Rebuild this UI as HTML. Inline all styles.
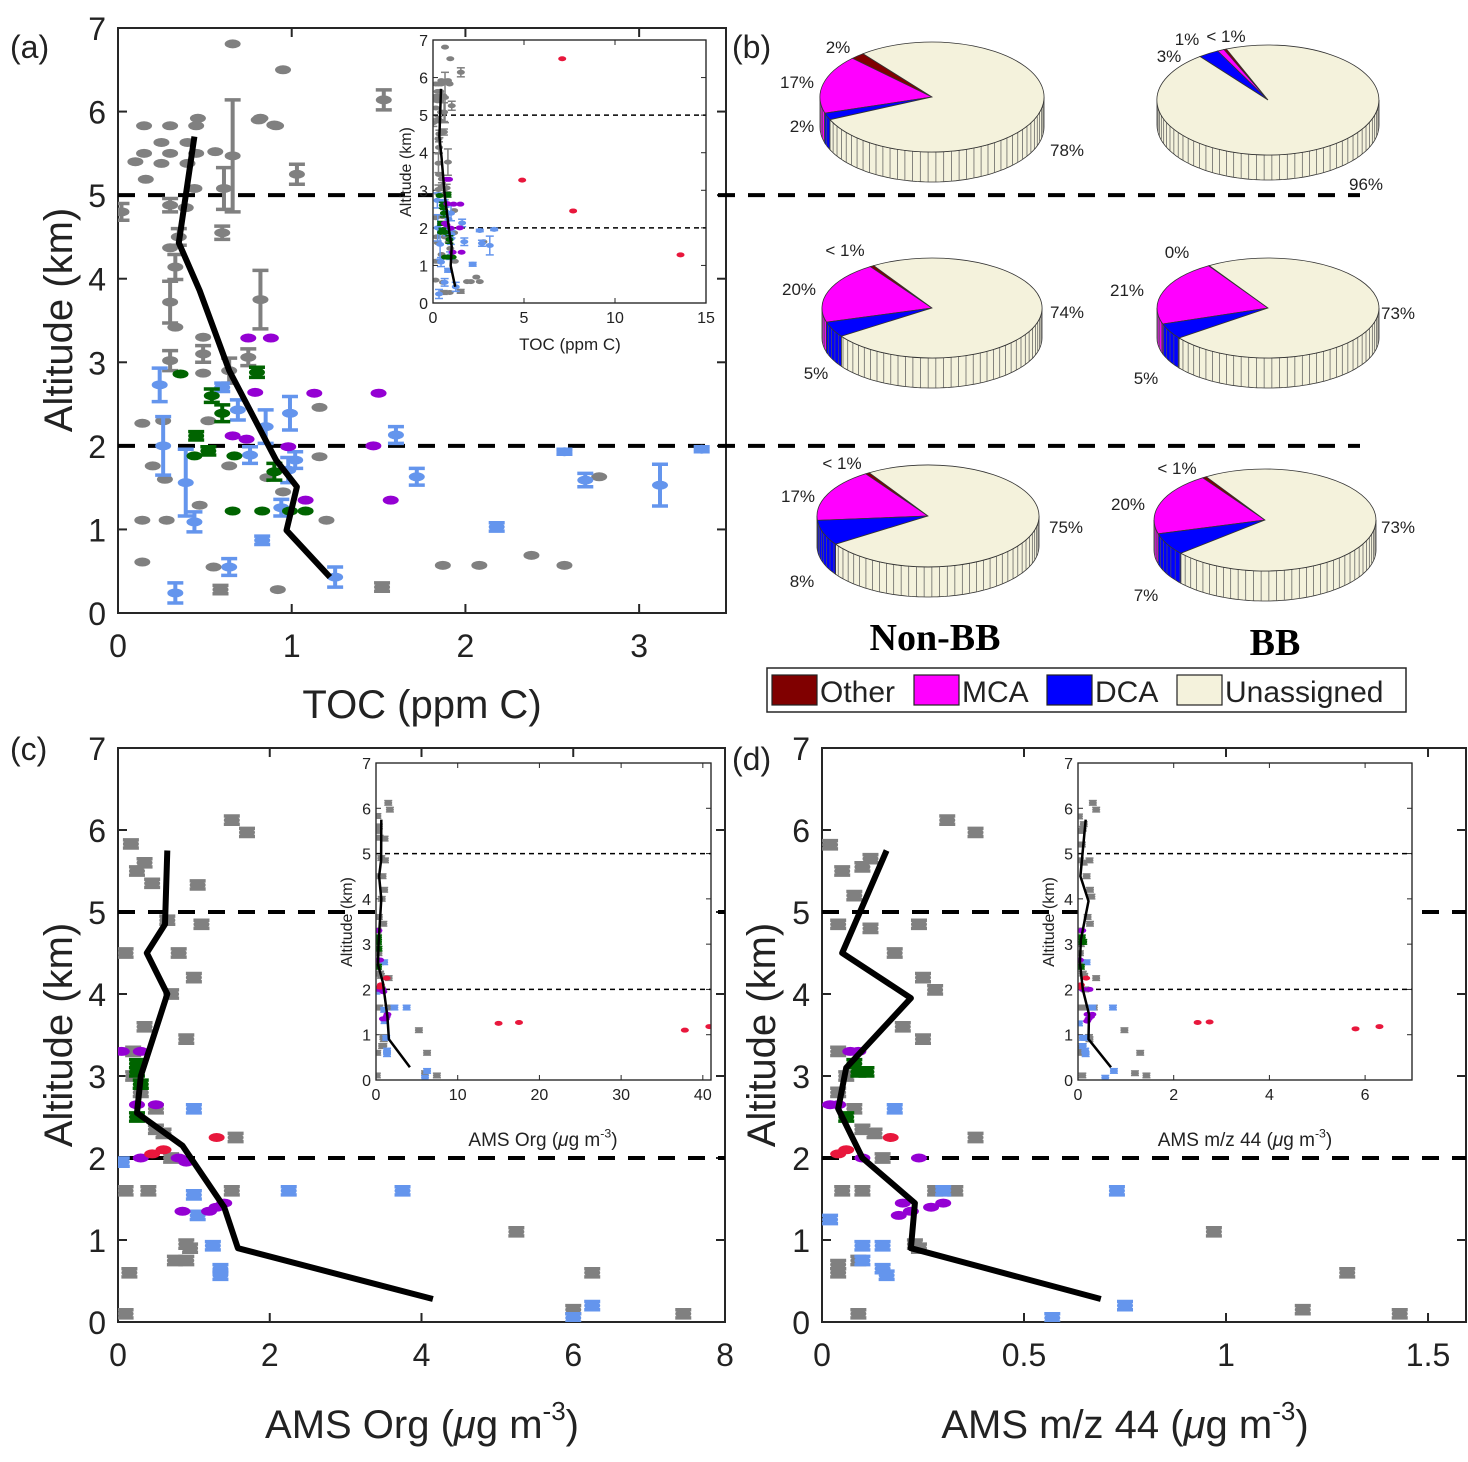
<!DOCTYPE html>
<html><head><meta charset="utf-8">
<style>
html,body{margin:0;padding:0;background:#fff;}
svg{display:block;font-family:"Liberation Sans",Arial,sans-serif;}
</style></head>
<body>
<svg id="fig" width="1468" height="1462" viewBox="0 0 1468 1462" xmlns="http://www.w3.org/2000/svg">
<rect width="1468" height="1462" fill="#fff"/>
</svg>
<script>
// ---------- Panel (a) data : TOC (ppm C) vs altitude (km) ----------
const aGrayX=[0.66,0.95,1.53,0.81,0.91,1.03,0.02,0.6,0.82,0.3,0.66,0.61,0.15,0.3,0.45,0.46,0.15,0.3,0.45,0.1,0.25,0.4,0.25,0.4,0.56,0.82,0.9,0.16,0.44,0.3,0.39,0.35,0.3,0.33,0.33,0.49,0.49,0.3,0.75,0.64,0.49,1.16,0.14,0.26,0.52,1.16,0.2,0.27,0.64,0.86,0.95,0.47,0.14,0.28,1.2,0.14,0.55,0.59,0.92,1.52,1.87,2.08,2.38,2.57,2.77];
const aGrayY=[6.81,6.5,6.14,5.9,5.83,5.25,4.8,4.55,3.75,3.72,5.47,5.08,5.83,5.83,5.83,5.92,5.5,5.5,5.5,5.4,5.38,5.38,5.63,5.63,5.52,5.92,5.84,5.19,5.08,4.88,4.85,4.5,4.37,4.14,3.42,3.3,3.1,3.02,3.06,2.9,2.87,2.46,2.27,2.3,2.3,1.87,1.76,1.6,1.76,1.62,1.45,1.29,1.11,1.11,1.11,0.61,0.55,0.28,0.28,0.31,0.57,0.57,0.69,0.57,1.63];
const aGrayE=[0,0,0.12,0,0,0.12,0.1,0.08,0.35,0.25,0.67,0.25,0,0,0,0,0,0,0,0,0,0,0,0,0,0,0,0,0,0.08,0,0.1,0,0.15,0,0,0.1,0.12,0.1,0.15,0,0,0,0,0,0,0,0,0,0,0,0,0,0,0,0,0,0.05,0,0.05,0,0,0,0,0];
const aBlueX=[0.24,0.6,0.69,0.99,0.85,0.26,0.76,1.02,0.98,1.6,1.72,0.39,0.44,0.94,0.83,0.64,1.25,0.33,2.18,2.69,3.12,3.36,2.57];
const aBlueY=[2.73,2.7,2.43,2.39,2.23,2.0,1.89,1.83,1.71,2.13,1.63,1.56,1.09,1.26,0.87,0.55,0.43,0.24,1.03,1.59,1.53,1.96,1.93];
const aBlueE=[0.2,0.05,0.12,0.2,0.2,0.35,0.1,0.1,0.15,0.1,0.1,0.4,0.12,0.1,0.05,0.1,0.12,0.12,0.05,0.08,0.25,0.03,0.03];
const aGreenX=[0.36,0.8,0.54,0.6,0.45,0.52,0.44,0.67,0.9,0.66,0.83,1.08,0.99];
const aGreenY=[2.86,2.88,2.6,2.39,2.12,1.94,1.88,1.88,1.69,1.22,1.22,1.22,1.22];
const aGreenE=[0,0.06,0.08,0.1,0.05,0.05,0,0,0.1,0,0,0,0];
const aPurpleX=[0.75,0.88,0.79,1.13,1.5,0.66,0.74,0.98,1.47,1.08,1.57];
const aPurpleY=[3.29,3.29,2.64,2.63,2.63,2.12,2.08,1.99,2.0,1.35,1.35];
const aRedX=[7.1,4.9,7.7,13.6];
const aRedY=[6.5,3.27,2.45,1.28];
const aMeanX=[0.44,0.35,0.47,0.64,0.91,1.03,0.97,1.22];
const aMeanY=[5.7,4.43,3.86,2.9,1.83,1.51,0.99,0.43];
// ---------- Panel (c) data : AMS Org ----------
const cGrayX=[0.17,0.35,0.25,0.45,1.05,0.65,1.1,0.1,0.8,1.0,0.7,0.35,0.9,1.5,1.7,0.2,0.2,0.3,0.5,0.5,0.6,1.55,0.7,0.4,0.1,1.5,0.9,0.95,0.75,0.9,0.15,0.1,5.25,6.25,6.0,7.45];
const cGrayY=[5.83,5.6,5.5,5.35,5.33,4.9,4.85,4.5,4.5,4.2,4.0,3.6,3.45,6.12,5.97,3.3,3.0,2.8,2.6,2.35,2.3,2.25,2.0,1.6,1.6,1.6,0.95,0.9,0.75,0.75,0.6,0.1,1.1,0.6,0.15,0.1];
const cBlueX=[0.05,1.0,2.25,3.75,1.0,1.05,1.25,1.35,1.35,6.25,6.0];
const cBlueY=[1.95,2.6,1.6,1.6,1.55,1.3,0.93,0.65,0.57,0.2,0.05];
const cGreenX=[0.25,0.25,0.3,0.25];
const cGreenY=[3.15,3.05,2.9,2.5];
const cPurpleX=[0.05,0.3,0.25,0.5,0.3,0.8,0.9,0.85,1.3,1.4,1.2];
const cPurpleY=[3.3,3.3,2.65,2.65,2.0,2.0,1.95,1.35,1.4,1.45,1.35];
const cRedX=[1.3,0.6,0.45,15,17.5,37.8,40.8];
const cRedY=[2.25,2.1,2.05,1.25,1.27,1.1,1.18];
const cMeanX=[0.65,0.62,0.38,0.65,0.3,0.25,0.85,1.4,1.58,4.15];
const cMeanY=[5.75,4.85,4.5,4.0,3.0,2.55,2.15,1.4,0.9,0.28];
// ---------- Panel (d) data : AMS m/z 44 ----------
const dGrayX=[0.02,0.1,0.12,0.05,0.08,0.04,0.12,0.24,0.18,0.25,0.28,0.2,0.25,0.31,0.38,0.04,0.06,0.04,0.08,0.1,0.13,0.38,0.15,0.05,0.1,0.28,0.33,0.23,0.24,0.09,0.04,0.04,0.09,0.97,1.3,1.19,1.43];
const dGrayY=[5.82,5.55,5.65,5.5,5.2,4.85,4.8,4.85,4.5,4.2,4.05,3.6,3.45,6.12,5.97,3.3,3.0,2.8,2.6,2.35,2.3,2.25,2.0,1.6,1.6,1.6,1.6,0.95,0.9,0.75,0.6,0.7,0.1,1.1,0.6,0.15,0.1];
const dBlueX=[0.02,0.18,0.73,0.3,0.1,0.15,0.15,0.16,0.1,0.75,0.57];
const dBlueY=[1.25,2.6,1.6,1.6,0.93,0.93,0.65,0.57,0.75,0.2,0.05];
const dGreenX=[0.08,0.09,0.11,0.06];
const dGreenY=[3.15,3.05,3.05,2.5];
const dPurpleX=[0.02,0.04,0.07,0.09,0.1,0.24,0.2,0.22,0.27,0.3,0.19];
const dPurpleY=[2.65,2.65,3.3,3.3,2.0,2.0,1.45,1.35,1.4,1.45,1.3];
const dRedX=[0.17,0.06,0.04,2.5,2.75,5.8,6.3];
const dRedY=[2.25,2.1,2.05,1.27,1.28,1.13,1.18];
const dMeanX=[0.16,0.05,0.22,0.06,0.04,0.1,0.23,0.22,0.69];
const dMeanY=[5.75,4.5,3.95,3.1,2.6,2.0,1.45,0.9,0.28];
// ---------- Panel (b) pie data (%) : Other, MCA, DCA, Unassigned ----------
const pieNonBBTop=[2,17,2,78];
const pieBBTop=[0.4,1,3,96];
const pieNonBBMid=[0.6,20,5,74];
const pieBBMid=[0.1,21,5,73];
const pieNonBBLow=[0.6,17,8,75];
const pieBBLow=[0.6,20,7,73];
const pieCategories=["Other","MCA","DCA","Unassigned"];

const NS="http://www.w3.org/2000/svg";
const svg=document.getElementById('fig');
function el(tag,attrs,parent){const e=document.createElementNS(NS,tag);for(const k in attrs)e.setAttribute(k,attrs[k]);(parent||svg).appendChild(e);return e;}
function txt(s,x,y,size,anchor,parent){const t=el('text',{x:x,y:y,'font-size':size,'text-anchor':anchor||'middle',fill:'#222'},parent);t.textContent=s;return t;}
const COL={gray:'#808080',blue:'#6495ed',green:'#006400',purple:'#9400d3',red:'#e8173c'};

function makeAxes(o){
  o.sx=v=>o.x0+(v-o.xmin)/(o.xmax-o.xmin)*(o.x1-o.x0);
  o.sy=v=>o.y1-(v-o.ymin)/(o.ymax-o.ymin)*(o.y1-o.y0);
  return o;
}
function drawFrame(o,name,small){
  const g=el('g',{});
  
  
  el('rect',{x:o.x0,y:o.y0,width:o.x1-o.x0,height:o.y1-o.y0,fill:'#fff',stroke:'#262626','stroke-width':small?1.2:2},g);
  const tl=small?5:9, fs=small?16:32;
  o.xticks.forEach(v=>{const x=o.sx(v);
    el('line',{x1:x,y1:o.y1,x2:x,y2:o.y1-tl,stroke:'#262626','stroke-width':small?1:2},g);
    el('line',{x1:x,y1:o.y0,x2:x,y2:o.y0+tl,stroke:'#262626','stroke-width':small?1:2},g);
    const t=txt(String(v),x,o.y1+(small?20:44),fs,'middle',g);
    });
  o.yticks.forEach(v=>{const y=o.sy(v);
    el('line',{x1:o.x0,y1:y,x2:o.x0+tl,y2:y,stroke:'#262626','stroke-width':small?1:2},g);
    el('line',{x1:o.x1,y1:y,x2:o.x1-tl,y2:y,stroke:'#262626','stroke-width':small?1:2},g);
    const t=txt(String(v),o.x0-(small?5:12),y+(small?6:12),fs,'end',g);
    });
  return g;
}
function clipFor(o,id){const cp=el('clipPath',{id:id});el('rect',{x:o.x0,y:o.y0,width:o.x1-o.x0,height:o.y1-o.y0},cp);return 'url(#'+id+')';}
function drawPoints(o,xs,ys,es,color,small,g,defE){
  const rx=small?4:8, ry=small?2.5:4.5, cw=small?4:8, lw=small?1.5:4;
  for(let i=0;i<xs.length;i++){
    const x=o.sx(xs[i]), y=o.sy(ys[i]);
    let e=es?es[i]:defE; if(e===undefined)e=0;
    const p=el('g',{},g);
    
    
    if(e>0){
      const ya=o.sy(ys[i]+e), yb=o.sy(ys[i]-e);
      el('line',{x1:x,y1:ya,x2:x,y2:yb,stroke:color,'stroke-width':lw},p);
      el('line',{x1:x-cw,y1:ya,x2:x+cw,y2:ya,stroke:color,'stroke-width':small?1.5:3.5},p);
      el('line',{x1:x-cw,y1:yb,x2:x+cw,y2:yb,stroke:color,'stroke-width':small?1.5:3.5},p);
    }
    el('ellipse',{cx:x,cy:y,rx:rx,ry:ry,fill:color},p);
  }
}
function drawMean(o,xs,ys,small,g){
  const d=xs.map((v,i)=>(i?'L':'M')+o.sx(v).toFixed(1)+','+o.sy(ys[i]).toFixed(1)).join('');
  const p=el('path',{d:d,fill:'none',stroke:'#000','stroke-width':small?2.5:6,'stroke-linejoin':'round'},g);
  
  
}
function dashed(x0,x1,y,small,name){
  const l=el('line',{x1:x0,x2:x1,y1:y,y2:y,stroke:'#000','stroke-width':small?1.5:4,'stroke-dasharray':small?'5,4':'17,13'});
  
  
}
function drawPanel(main,inset,D,id){
  drawFrame(main,id+'-main',false);
  dashed(main.x0,main.dashEnd||main.x1,main.sy(5),false,'threshold-5km-line');
  dashed(main.x0,main.dashEnd||main.x1,main.sy(2),false,'threshold-2km-line');
  const cm=clipFor(main,'clip-'+id);
  const g=el('g',{'clip-path':cm});
  
  
  drawPoints(main,D.gx,D.gy,D.ge,COL.gray,false,g,D.defE);
  drawPoints(main,D.bx,D.by,D.be,COL.blue,false,g,D.defE);
  drawPoints(main,D.grx,D.gry,D.gre,COL.green,false,g,D.defE);
  drawPoints(main,D.px,D.py,null,COL.purple,false,g,0);
  drawPoints(main,D.rx,D.ry,null,COL.red,false,g,0);
  drawMean(main,D.mx,D.my,false,g);
  drawFrame(inset,id+'-inset',true);
  dashed(inset.x0,inset.x1,inset.sy(5),true,'inset-threshold-5km');
  dashed(inset.x0,inset.x1,inset.sy(2),true,'inset-threshold-2km');
  const ci=clipFor(inset,'clipi-'+id);
  const gi=el('g',{'clip-path':ci});
  
  
  drawPoints(inset,D.gx,D.gy,D.ge,COL.gray,true,gi,D.defE);
  drawPoints(inset,D.bx,D.by,D.be,COL.blue,true,gi,D.defE);
  drawPoints(inset,D.grx,D.gry,D.gre,COL.green,true,gi,D.defE);
  drawPoints(inset,D.px,D.py,null,COL.purple,true,gi,0);
  drawPoints(inset,D.rx,D.ry,null,COL.red,true,gi,0);
  drawMean(inset,D.mx,D.my,true,gi);
  el('rect',{x:inset.x0,y:inset.y0,width:inset.x1-inset.x0,height:inset.y1-inset.y0,fill:'none',stroke:'#262626','stroke-width':1.2});
}

const A=makeAxes({x0:118,x1:726,y0:28,y1:613,xmin:0,xmax:3.5,ymin:0,ymax:7,xticks:[0,1,2,3],yticks:[0,1,2,3,4,5,6,7],dashEnd:1360});
const Ai=makeAxes({x0:433,x1:706,y0:40,y1:303,xmin:0,xmax:15,ymin:0,ymax:7,xticks:[0,5,10,15],yticks:[0,1,2,3,4,5,6,7]});
drawPanel(A,Ai,{gx:aGrayX,gy:aGrayY,ge:aGrayE,bx:aBlueX,by:aBlueY,be:aBlueE,grx:aGreenX,gry:aGreenY,gre:aGreenE,px:aPurpleX,py:aPurpleY,rx:aRedX,ry:aRedY,mx:aMeanX,my:aMeanY},'panel-a');
const C=makeAxes({x0:118,x1:725,y0:748,y1:1322,xmin:0,xmax:8,ymin:0,ymax:7,xticks:[0,2,4,6,8],yticks:[0,1,2,3,4,5,6,7]});
const Ci=makeAxes({x0:376,x1:711,y0:763,y1:1080,xmin:0,xmax:41,ymin:0,ymax:7,xticks:[0,10,20,30,40],yticks:[0,1,2,3,4,5,6,7]});
drawPanel(C,Ci,{gx:cGrayX,gy:cGrayY,bx:cBlueX,by:cBlueY,grx:cGreenX,gry:cGreenY,px:cPurpleX,py:cPurpleY,rx:cRedX,ry:cRedY,mx:cMeanX,my:cMeanY,defE:0.05},'panel-c');
const Dd=makeAxes({x0:822,x1:1466,y0:748,y1:1322,xmin:0,xmax:1.594,ymin:0,ymax:7,xticks:[0,0.5,1,1.5],yticks:[0,1,2,3,4,5,6,7]});
const Di=makeAxes({x0:1078,x1:1412,y0:763,y1:1080,xmin:0,xmax:6.98,ymin:0,ymax:7,xticks:[0,2,4,6],yticks:[0,1,2,3,4,5,6,7]});
drawPanel(Dd,Di,{gx:dGrayX,gy:dGrayY,bx:dBlueX,by:dBlueY,grx:dGreenX,gry:dGreenY,px:dPurpleX,py:dPurpleY,rx:dRedX,ry:dRedY,mx:dMeanX,my:dMeanY,defE:0.05},'panel-d');

function rotTitle(s,x,y,size,name){const t=txt(s,x,y,size,'middle');t.setAttribute('transform','rotate(-90 '+x+' '+y+')');
  return t;}
rotTitle('Altitude (km)',72,320,40,'y-axis-title-a');
rotTitle('Altitude (km)',72,1035,40,'y-axis-title-c');
rotTitle('Altitude (km)',775,1035,40,'y-axis-title-d');
rotTitle('Altitude (km)',411,172,16,'inset-y-title-a');
rotTitle('Altitude (km)',352,922,16,'inset-y-title-c');
rotTitle('Altitude (km)',1054,922,16,'inset-y-title-d');
let t;
t=txt('TOC (ppm C)',422,718,40);
t=txt('TOC (ppm C)',570,350,17);
function amsTitle(pre,x,y,size,name){const t=el('text',{x:x,y:y,'font-size':size,'text-anchor':'middle',fill:'#222'});
  
  t.innerHTML=pre+' (<tspan font-style="italic">μ</tspan>g m<tspan dy="'+(-size*0.45)+'" font-size="'+(size*0.65)+'">-3</tspan><tspan dy="'+(size*0.45)+'">)</tspan>';}
amsTitle('AMS Org',422,1438,40,'x-axis-title-c');
amsTitle('AMS m/z 44',1125,1438,40,'x-axis-title-d');
amsTitle('AMS Org',543,1146,19,'inset-x-title-c');
amsTitle('AMS m/z 44',1245,1146,19,'inset-x-title-d');
[['(a)',10,58],['(b)',732,58],['(c)',10,760],['(d)',732,770]].forEach(p=>{const q=txt(p[0],p[1],p[2],32,'start');});

const PCOL=['#800000','#ff00ff','#0000ff','#f4f2dc'];
function pie(cx,cy,rx,ry,depth,vals,start,name){
  const g=el('g',{});
  
  
  const tot=vals.reduce((a,b)=>a+b,0);
  const P=(a,dy)=>[cx+rx*Math.cos(a*Math.PI/180),cy-ry*Math.sin(a*Math.PI/180)+(dy||0)];
  let a=start; const sl=[];
  vals.forEach((v,i)=>{const s=a,e=a+v/tot*360;sl.push([s,e,i]);a=e;});
  sl.forEach(([s,e,i])=>{
    [[180,360],[540,720]].forEach(([lo,hi])=>{
      const a0=Math.max(s,lo),a1=Math.min(e,hi); if(a1<=a0)return;
      const pts=[];const n=Math.max(2,Math.ceil((a1-a0)/2));
      for(let k=0;k<=n;k++)pts.push(P(a0+(a1-a0)*k/n));
      for(let k=n;k>=0;k--)pts.push(P(a0+(a1-a0)*k/n,depth));
      const poly=el('polygon',{points:pts.map(p=>p.map(v=>v.toFixed(1)).join(',')).join(' '),fill:PCOL[i],stroke:'#333','stroke-width':0.8},g);
      
      
      for(let ang=Math.ceil(a0/4)*4;ang<a1;ang+=4){const p1=P(ang),p2=P(ang,depth);
        el('line',{x1:p1[0],y1:p1[1],x2:p2[0],y2:p2[1],stroke:'#555','stroke-width':0.7},g);}
    });
  });
  sl.forEach(([s,e,i])=>{
    if(e-s<0.01)return;
    const p0=P(s),p1=P(e);const large=(e-s)>180?1:0;
    const path=el('path',{d:'M'+cx+','+cy+'L'+p0[0].toFixed(1)+','+p0[1].toFixed(1)+'A'+rx+','+ry+' 0 '+large+' 0 '+p1[0].toFixed(1)+','+p1[1].toFixed(1)+'Z',fill:PCOL[i],stroke:'#333','stroke-width':0.8},g);
    
    
  });
}
pie(932,97,112,55,30,pieNonBBTop,128,'pie-nonbb-above-5km');
pie(1268,100,111,55,25,pieBBTop,112,'pie-bb-above-5km');
pie(932,308,110,50,30,pieNonBBMid,122,'pie-nonbb-2-5km');
pie(1268,308,111,50,30,pieBBMid,122,'pie-bb-2-5km');
pie(928,516,111,51,30,pieNonBBLow,122,'pie-nonbb-below-2km');
pie(1265,520,111,51,30,pieBBLow,122,'pie-bb-below-2km');
[['2%',838,53],['17%',797,88],['2%',802,132],['78%',1067,156],
 ['1%',1187,45],['< 1%',1226,42],['3%',1169,62],['96%',1366,190],
 ['< 1%',845,256],['20%',799,295],['5%',816,379],['74%',1067,318],
 ['0%',1177,258],['21%',1127,296],['5%',1146,384],['73%',1398,319],
 ['< 1%',842,469],['17%',798,502],['8%',802,587],['75%',1066,533],
 ['< 1%',1177,474],['20%',1128,510],['7%',1146,601],['73%',1398,533]].forEach(p=>{
  const q=txt(p[0],p[1],p[2],17,'middle');});
t=el('text',{x:935,y:650,'font-size':38,'font-weight':'bold','text-anchor':'middle','font-family':'"Liberation Serif",serif',fill:'#000'});t.textContent='Non-BB';

t=el('text',{x:1275,y:655,'font-size':38,'font-weight':'bold','text-anchor':'middle','font-family':'"Liberation Serif",serif',fill:'#000'});t.textContent='BB';


const lg=el('g',{});


el('rect',{x:767,y:668,width:639,height:44,fill:'#fff',stroke:'#262626','stroke-width':1.5},lg);
[[772,820,'Other'],[914,962,'MCA'],[1047,1095,'DCA'],[1177,1225,'Unassigned']].forEach((p,i)=>{
  const e=el('g',{},lg);
  
  
  el('rect',{x:p[0],y:675,width:45,height:30,fill:PCOL[i],stroke:'#222','stroke-width':1.2},e);
  txt(p[2],p[1],702,30,'start',e);
});
</script>
</body></html>
